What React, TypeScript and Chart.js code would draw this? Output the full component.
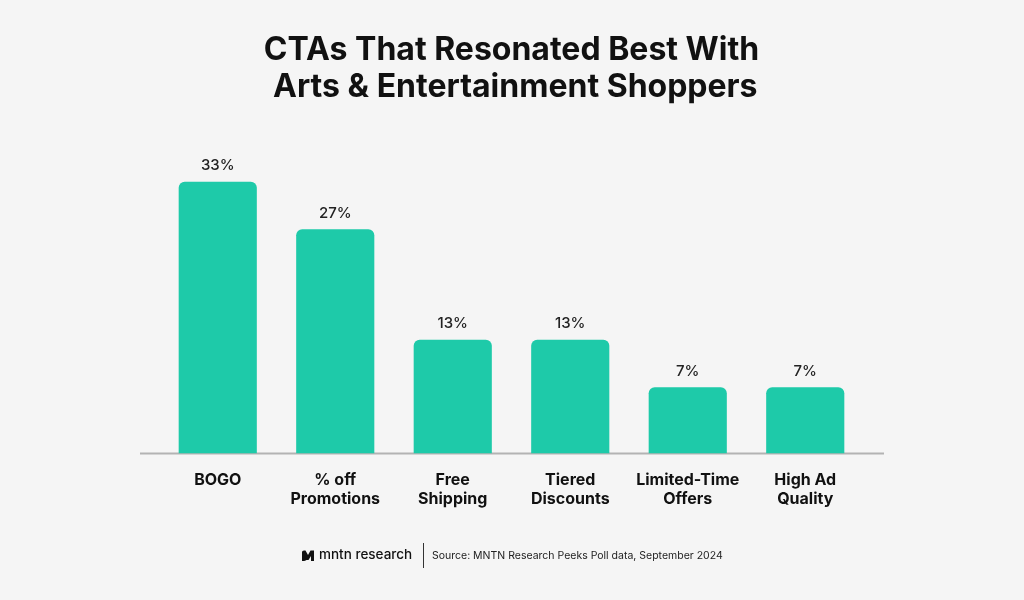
import React, { useEffect, useRef } from "react";
import { Chart, registerables } from "chart.js";

Chart.register(...registerables);

const categories: string[][] = [
  ["BOGO"],
  ["% off", "Promotions"],
  ["Free", "Shipping"],
  ["Tiered", "Discounts"],
  ["Limited-Time", "Offers"],
  ["High Ad", "Quality"],
];
const shares: number[] = [33, 27, 13, 13, 7, 7];
const valueLabels: string[] = ["33%", "27%", "13%", "13%", "7%", "7%"];
const titleLines: string[] = ["CTAs That Resonated Best With", " Arts & Entertainment Shoppers"];
const brandText = "mntn research";
const sourceText = "Source: MNTN Research Peeks Poll data, September 2024";

const yMin = -1.4;
const yMax = 35.8;

const BG = "#f5f5f5";
const BAR = "#1ecaa9";

const bgPlugin = {
  id: "bg",
  beforeDraw(chart: any) {
    const { ctx, width, height } = chart;
    ctx.save();
    ctx.fillStyle = BG;
    ctx.fillRect(0, 0, width, height);
    ctx.restore();
  },
};

const baselinePlugin = {
  id: "baseline",
  beforeDatasetsDraw(chart: any) {
    const { ctx, chartArea } = chart;
    ctx.save();
    ctx.strokeStyle = "#b3b3b3";
    ctx.lineWidth = 2;
    ctx.beginPath();
    ctx.moveTo(chartArea.left - 19, chartArea.bottom);
    ctx.lineTo(chartArea.right + 20, chartArea.bottom);
    ctx.stroke();
    ctx.restore();
  },
};

const valuePlugin = {
  id: "values",
  afterDatasetsDraw(chart: any) {
    const { ctx } = chart;
    const meta = chart.getDatasetMeta(0);
    ctx.save();
    ctx.fillStyle = "#222";
    ctx.font = "500 15px Inter";
    ctx.textAlign = "center";
    ctx.textBaseline = "middle";
    meta.data.forEach((bar: any, i: number) => {
      ctx.fillText(valueLabels[i], bar.x, bar.y - 16);
    });
    ctx.restore();
  },
};

const footerPlugin = {
  id: "footer",
  afterDraw(chart: any) {
    const { ctx } = chart;
    const y = 556;
    ctx.save();
    // logo mark
    ctx.fillStyle = "#111";
    ctx.beginPath();
    ctx.moveTo(302, 561);
    ctx.lineTo(302, 552);
    ctx.quadraticCurveTo(302, 550.5, 304, 550.5);
    ctx.lineTo(305.5, 550.5);
    ctx.lineTo(308, 555);
    ctx.lineTo(310.5, 550.5);
    ctx.lineTo(314, 550.5);
    ctx.lineTo(314, 561);
    ctx.lineTo(311, 561);
    ctx.lineTo(311, 556);
    ctx.lineTo(308.5, 560);
    ctx.lineTo(306.5, 560);
    ctx.quadraticCurveTo(305, 561, 304, 561);
    ctx.closePath();
    ctx.fill();
    ctx.textBaseline = "middle";
    ctx.textAlign = "left";
    ctx.font = "500 13.5px Inter";
    ctx.fillText(brandText, 319, y - 1);
    ctx.strokeStyle = "#333";
    ctx.lineWidth = 1;
    ctx.beginPath();
    ctx.moveTo(423.5, 543);
    ctx.lineTo(423.5, 568);
    ctx.stroke();
    ctx.fillStyle = "#222";
    ctx.font = "400 10.5px Inter";
    ctx.fillText(sourceText, 432, y);
    ctx.restore();
  },
};

export default function App() {
  const ref = useRef<HTMLCanvasElement | null>(null);

  useEffect(() => {
    document.body.style.margin = "0";
    document.body.style.background = BG;
    const canvas = ref.current;
    if (!canvas) return;
    const chart = new Chart(canvas, {
      type: "bar",
      data: {
        labels: categories,
        datasets: [
          {
            data: shares,
            base: yMin,
            backgroundColor: BAR,
            borderRadius: 6,
            borderSkipped: "start",
            barPercentage: 0.665,
            categoryPercentage: 1,
          } as any,
        ],
      },
      options: {
        responsive: false,
        animation: false,
        devicePixelRatio: 1,
        layout: { padding: { left: 159, right: 160, top: 0, bottom: 74 } },
        plugins: {
          legend: { display: false },
          tooltip: { enabled: false },
          title: {
            display: true,
            text: titleLines,
            color: "#111",
            font: { family: "Inter", size: 32, weight: "bold", lineHeight: 1.15 },
            padding: { top: 32, bottom: 54 },
          },
        },
        scales: {
          x: {
            grid: { display: false, drawTicks: false },
            border: { display: false },
            ticks: {
              color: "#111",
              padding: 17,
              maxRotation: 0,
              autoSkip: false,
              font: { family: "Inter", size: 16, weight: "bold", lineHeight: 1.2 },
            },
          },
          y: {
            display: false,
            min: yMin,
            max: yMax,
          },
        },
      },
      plugins: [bgPlugin, baselinePlugin, valuePlugin, footerPlugin],
    });
    return () => chart.destroy();
  }, []);

  return (
    <div style={{ position: "fixed", left: 0, top: 0, width: 1024, height: 600, background: BG }}>
      <canvas ref={ref} width={1024} height={600} style={{ display: "block" }} />
    </div>
  );
}
